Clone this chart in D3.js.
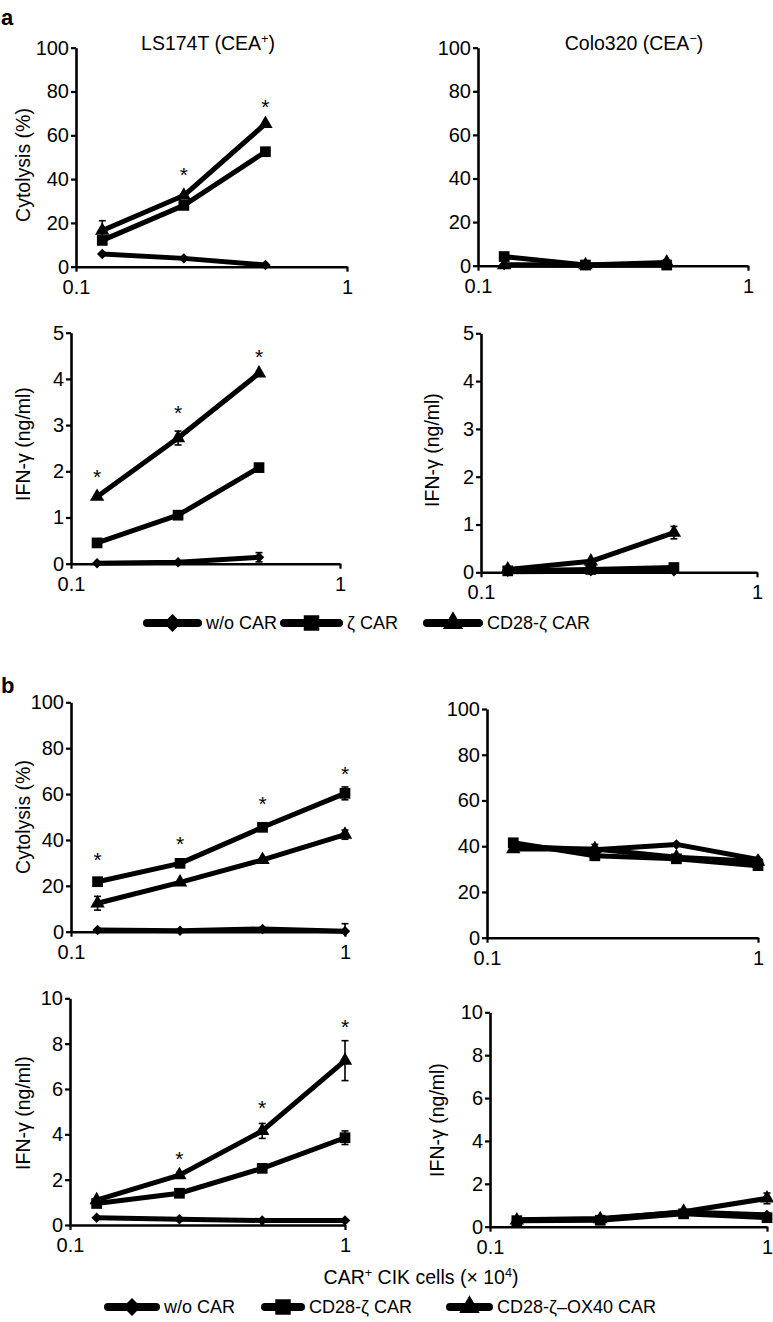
<!DOCTYPE html>
<html><head><meta charset="utf-8">
<script src="https://cdn.jsdelivr.net/npm/d3@7"></script>
<style>
body{margin:0;background:#fff}
svg{display:block}
text{font-family:"Liberation Sans",Arial,Helvetica,sans-serif;fill:#000}
</style>
</head><body>
<svg id="c" width="773" height="1322"></svg>
<script>
// ---------- data ----------
const dosesA = [0.125, 0.25, 0.5];
const dosesB = [0.125, 0.25, 0.5, 1];
const xTickValues = [0.1, 1];
const xTickLabels = ["0.1", "1"];
const cytoTicks = [0, 20, 40, 60, 80, 100];
const ifnTicksA = [0, 1, 2, 3, 4, 5];
const ifnTicksB = [0, 2, 4, 6, 8, 10];
const seriesNamesA = ["w/o CAR", "ζ CAR", "CD28-ζ CAR"];
const seriesNamesB = ["w/o CAR", "CD28-ζ CAR", "CD28-ζ–OX40 CAR"];

// a: LS174T cytolysis
const a1WoCAR = [5.8, 3.8, 0.8];
const a1Zeta  = [12.0, 28.0, 52.5];
const a1CD28  = [16.5, 32.5, 65.2];
const a1CD28Err = [4.5, 0, 0];
const a1Stars = [[0.25, 44], [0.5, 75]];
// a: Colo320 cytolysis
const a2WoCAR = [0.3, 0.2, 0.3];
const a2Zeta  = [4.2, 0.3, 0.3];
const a2CD28  = [0.3, 0.3, 1.5];
const a2CD28Err = [0, 0, 1.2];
// a: LS174T IFN-γ
const a3WoCAR = [0.01, 0.03, 0.14];
const a3WoCARErr = [0, 0, 0.1];
const a3Zeta  = [0.45, 1.05, 2.08];
const a3CD28  = [1.45, 2.72, 4.12];
const a3CD28Err = [0, 0.15, 0];
const a3Stars = [[0.125, 1.97], [0.25, 3.37], [0.5, 4.57]];
// a: Colo320 IFN-γ
const a4WoCAR = [0.01, 0.02, 0.02];
const a4Zeta  = [0.03, 0.06, 0.10];
const a4CD28  = [0.06, 0.23, 0.83];
const a4CD28Err = [0, 0, 0.13];

// b: cytolysis left
const b1WoCAR = [0.7, 0.4, 1.2, 0.2];
const b1WoCARErr = [0, 0, 0, 3.3];
const b1CD28  = [21.8, 29.8, 45.5, 60.3];
const b1CD28Err = [1.5, 0, 1.5, 2.8];
const b1OX40  = [12.4, 21.5, 31.3, 42.3];
const b1OX40Err = [3.0, 0, 0, 2.0];
const b1Stars = [[0.125, 33.4], [0.25, 40], [0.5, 57.5], [1, 70.8]];
// b: cytolysis right
const b2WoCAR = [40.0, 38.5, 40.8, 34.2];
const b2CD28  = [41.5, 35.8, 34.5, 31.5];
const b2OX40  = [38.8, 38.8, 35.2, 33.3];
const b2OX40Err = [0, 2.0, 0, 0];
// b: IFN-γ left
const b3WoCAR = [0.32, 0.25, 0.20, 0.20];
const b3CD28  = [0.95, 1.40, 2.50, 3.85];
const b3CD28Err = [0, 0, 0, 0.3];
const b3OX40  = [1.10, 2.20, 4.15, 7.25];
const b3OX40Err = [0, 0.12, 0.33, 0.88];
const b3Stars = [[0.25, 3.09], [0.5, 5.37], [1, 8.92]];
// b: IFN-γ right
const b4WoCAR = [0.33, 0.38, 0.68, 0.55];
const b4CD28  = [0.28, 0.30, 0.60, 0.42];
const b4OX40  = [0.30, 0.35, 0.70, 1.32];
const b4OX40Err = [0, 0, 0, 0.25];

// ---------- layout ----------
const TICKFONT = 20;
const LABELFONT = 19.5;
const svg = d3.select("#c");

const panels = [
  {doses: dosesA, series: [a1WoCAR, a1Zeta, a1CD28], errs: [null, null, a1CD28Err], ticks: cytoTicks, stars: a1Stars,
   box: {x0: 76, x1: 347, yT: 47.7, yB: 266.7}, ylabel: "Cytolysis (%)", yl: [23, 165]},
  {doses: dosesA, series: [a2WoCAR, a2Zeta, a2CD28], errs: [null, null, a2CD28Err], ticks: cytoTicks, stars: [],
   box: {x0: 478, x1: 748, yT: 47.7, yB: 265.7}},
  {doses: dosesA, series: [a3WoCAR, a3Zeta, a3CD28], errs: [a3WoCARErr, null, a3CD28Err], ticks: ifnTicksA, stars: a3Stars,
   box: {x0: 71, x1: 340, yT: 332.7, yB: 563.7}, ylabel: "IFN-γ (ng/ml)", yl: [23, 444]},
  {doses: dosesA, series: [a4WoCAR, a4Zeta, a4CD28], errs: [null, null, a4CD28Err], ticks: ifnTicksA, stars: [],
   box: {x0: 481, x1: 757, yT: 333.3, yB: 572.3}, ylabel: "IFN-γ (ng/ml)", yl: [432, 450]},
  {doses: dosesB, series: [b1WoCAR, b1CD28, b1OX40], errs: [b1WoCARErr, b1CD28Err, b1OX40Err], ticks: cytoTicks, stars: b1Stars,
   box: {x0: 71, x1: 345, yT: 702.3, yB: 931.7}, ylabel: "Cytolysis (%)", yl: [23, 817]},
  {doses: dosesB, series: [b2WoCAR, b2CD28, b2OX40], errs: [null, null, b2OX40Err], ticks: cytoTicks, stars: [],
   box: {x0: 487, x1: 758, yT: 709, yB: 937.7}},
  {doses: dosesB, series: [b3WoCAR, b3CD28, b3OX40], errs: [null, b3CD28Err, b3OX40Err], ticks: ifnTicksB, stars: b3Stars,
   box: {x0: 70, x1: 345, yT: 998.3, yB: 1225}, ylabel: "IFN-γ (ng/ml)", yl: [23, 1113]},
  {doses: dosesB, series: [b4WoCAR, b4CD28, b4OX40], errs: [null, null, b4OX40Err], ticks: ifnTicksB, stars: [],
   box: {x0: 490, x1: 767, yT: 1012.3, yB: 1226.7}, ylabel: "IFN-γ (ng/ml)", yl: [437, 1120]}
];

const diamond = {draw(ctx, size) { const r = Math.sqrt(size / 2); ctx.moveTo(0, -r); ctx.lineTo(r, 0); ctx.lineTo(0, r); ctx.lineTo(-r, 0); ctx.closePath(); }};
const symbolTypes = [diamond, d3.symbolSquare, d3.symbolTriangle];
const symbolSizes = [55, 115, 90];
const legendSizes = [160, 240, 180];

panels.forEach(p => {
  const b = p.box;
  const x = d3.scaleLog().domain([0.1, 1]).range([b.x0, b.x1]);
  const y = d3.scaleLinear().domain([0, d3.max(p.ticks)]).range([b.yB, b.yT]);
  const g = svg.append("g");

  const ya = g.append("g").attr("transform", `translate(${b.x0},0)`)
    .call(d3.axisLeft(y).tickValues(p.ticks).tickSize(5).tickSizeOuter(0).tickPadding(2).tickFormat(d3.format("d")));
  const xa = g.append("g").attr("transform", `translate(0,${b.yB})`)
    .call(d3.axisBottom(x).tickValues(xTickValues).tickSize(5).tickSizeOuter(0).tickPadding(8).tickFormat((d, i) => xTickLabels[i]));
  [ya, xa].forEach(a => {
    a.select(".domain").attr("stroke", "#000").attr("stroke-width", 2.6);
    a.selectAll(".tick line").attr("stroke", "#000").attr("stroke-width", 2.2);
    a.selectAll("text").attr("font-size", TICKFONT).attr("font-family", "Liberation Sans, Arial, sans-serif").attr("fill", "#000");
  });

  if (p.ylabel) {
    g.append("text").attr("transform", `translate(${p.yl[0]},${p.yl[1]}) rotate(-90)`)
      .attr("text-anchor", "middle").attr("dy", "0.35em").attr("font-size", LABELFONT).text(p.ylabel);
  }

  const line = d3.line().x((d, i) => x(p.doses[i])).y(d => y(d));
  p.series.forEach((s, k) => {
    if (p.errs[k]) {
      p.errs[k].forEach((e, i) => {
        if (!e) return;
        const cx = x(p.doses[i]);
        const y1 = y(s[i] + e), y2 = y(Math.max(0, s[i] - e));
        g.append("line").attr("x1", cx).attr("x2", cx).attr("y1", y1).attr("y2", y2).attr("stroke", "#000").attr("stroke-width", 1.6);
        [y1, y2].forEach(yy => g.append("line").attr("x1", cx - 3.5).attr("x2", cx + 3.5).attr("y1", yy).attr("y2", yy).attr("stroke", "#000").attr("stroke-width", 1.6));
      });
    }
    g.append("path").datum(s).attr("d", line).attr("fill", "none").attr("stroke", "#000")
      .attr("stroke-width", 5).attr("stroke-linejoin", "round");
    g.selectAll(null).data(s).enter().append("path")
      .attr("transform", (d, i) => `translate(${x(p.doses[i])},${y(d)})`)
      .attr("d", d3.symbol().type(symbolTypes[k]).size(symbolSizes[k]))
      .attr("fill", "#000");
  });

  p.stars.forEach(st => {
    g.append("text").attr("x", x(st[0])).attr("y", y(st[1])).attr("dy", "0.55em")
      .attr("text-anchor", "middle").attr("font-size", 21).text("*");
  });
});

// titles
function supText(sel, parts) {
  parts.forEach(pt => {
    const t = sel.append("tspan").text(pt[0]);
    if (pt[1]) t.attr("baseline-shift", "super").attr("font-size", "65%");
  });
}
supText(svg.append("text").attr("x", 208).attr("y", 50).attr("text-anchor", "middle").attr("font-size", 19.5),
  [["LS174T (CEA"], ["+", 1], [")"]]);
supText(svg.append("text").attr("x", 634).attr("y", 50).attr("text-anchor", "middle").attr("font-size", 19.5),
  [["Colo320 (CEA"], ["−", 1], [")"]]);
supText(svg.append("text").attr("x", 421).attr("y", 1284).attr("text-anchor", "middle").attr("font-size", 19.5),
  [["CAR"], ["+", 1], [" CIK cells (× 10"], ["4", 1], [")"]]);

svg.append("text").attr("x", 1).attr("y", 25).attr("font-size", 22).attr("font-weight", "bold").text("a");
svg.append("text").attr("x", 1).attr("y", 693).attr("font-size", 22).attr("font-weight", "bold").text("b");

// legends
function legend(names, yc, items) {
  names.forEach((n, k) => {
    const it = items[k];
    const lg = svg.append("g");
    lg.append("line").attr("x1", it[0]).attr("x2", it[1]).attr("y1", yc).attr("y2", yc)
      .attr("stroke", "#000").attr("stroke-width", 8).attr("stroke-linecap", "round");
    lg.append("path").attr("transform", `translate(${(it[0] + it[1]) / 2},${yc})`)
      .attr("d", d3.symbol().type(symbolTypes[k]).size(legendSizes[k])).attr("fill", "#000");
    lg.append("text").attr("x", it[1] + 8).attr("y", yc).attr("dy", "0.36em").attr("font-size", 18).text(n);
  });
}
legend(seriesNamesA, 623, [[147, 198], [284, 339], [427, 479]]);
legend(seriesNamesB, 1307, [[108, 156], [265, 301], [450, 489]]);
</script>
</body></html>
